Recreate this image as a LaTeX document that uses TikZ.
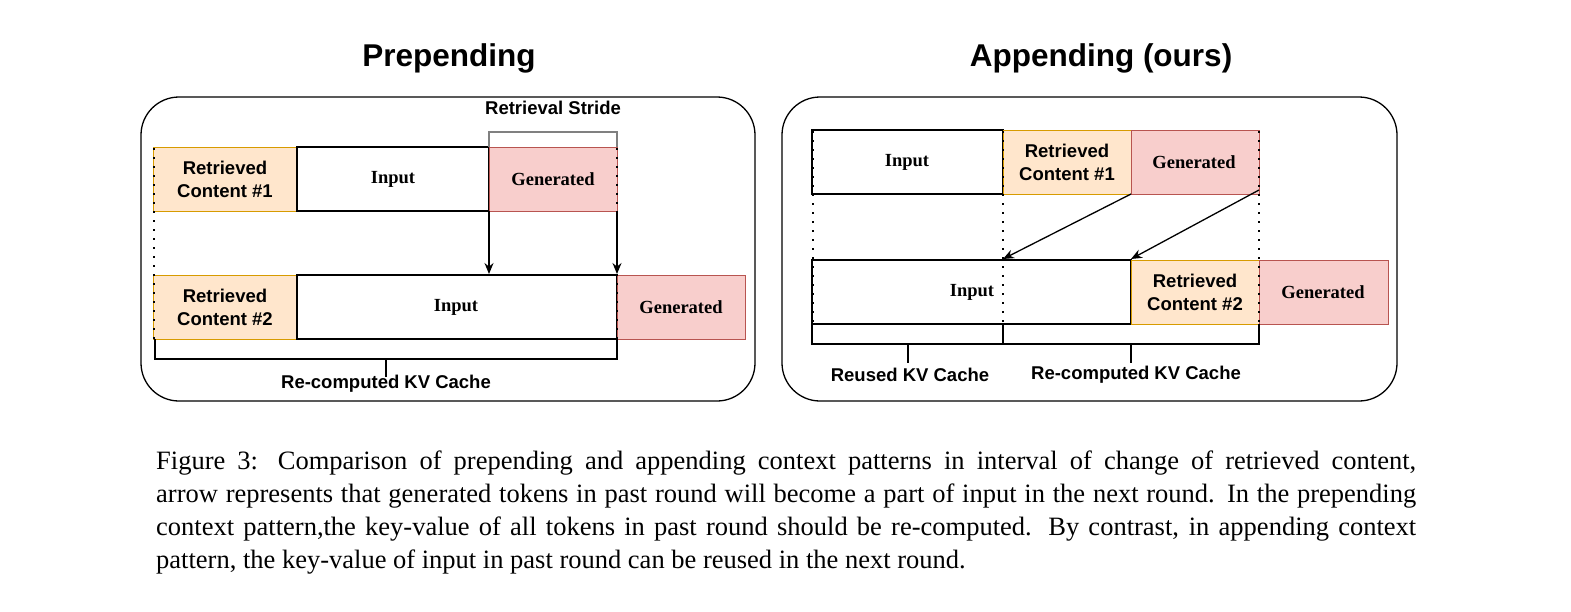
\documentclass[tikz,border=0pt]{standalone}
\usepackage{fontspec}
\setmainfont{Liberation Serif}
\setsansfont{Liberation Sans}
\usetikzlibrary{arrows.meta}
\definecolor{orf}{HTML}{FFE6CC}\definecolor{ord}{HTML}{D79B00}
\definecolor{ref}{HTML}{F8CECC}\definecolor{red2}{HTML}{B85450}
\begin{document}
\begin{tikzpicture}[x=1pt,y=-1pt,
 box/.style={draw=black,line width=1.2pt,inner sep=0pt},
 ret/.style={draw=ord,fill=orf,line width=1pt},
 gen/.style={draw=red2,fill=ref,line width=1pt},
 lab/.style={font=\bfseries\fontsize{18.5}{22}\selectfont},
 slab/.style={font=\sffamily\bfseries\fontsize{18.5}{23}\selectfont,align=center},
 dots/.style={line width=2.2pt,dash pattern=on 2pt off 7pt},
 arr/.style={-{Stealth[length=11pt,width=9pt]},line width=1.3pt},
 brk/.style={line width=1.3pt}]
\useasboundingbox (0,0) rectangle (1571,611);
% titles
\node[font=\sffamily\bfseries\fontsize{31.5}{36}\selectfont] (t1) at (449,58) {Prepending};
\node[font=\sffamily\bfseries\fontsize{31.5}{36}\selectfont] (t2) at (1101,58) {Appending (ours)};
\draw[line width=1.3pt,rounded corners=38pt] (141,97) rectangle (755,401);
\draw[line width=1.3pt,rounded corners=38pt] (782,97) rectangle (1397,401);
% left
\draw[ret] (153,147) rectangle (297,211); \node[slab] (r1) at (225,179) {Retrieved\\Content \#1};
\draw[box] (297,147) rectangle (489,211); \node[lab] (i1) at (393,179) {Input};
\draw[gen] (489,147) rectangle (617,211); \node[lab] (g1) at (553,179) {Generated};
\draw[ret] (153,275) rectangle (297,339); \node[slab] (r2) at (225,307) {Retrieved\\Content \#2};
\draw[box] (297,275) rectangle (617,339); \node[lab] (i2) at (456,307) {Input};
\draw[gen] (617,275) rectangle (745,339); \node[lab] (g2) at (681,307) {Generated};
\draw[dots] (154,148) -- (154,340);
\draw[dots] (617,148) -- (617,340);
\coordinate (a1) at (489,211); \coordinate (b1) at (489,274);
\coordinate (a2) at (617,211); \coordinate (b2) at (617,274);
\draw[arr] (a1) -- (b1); \draw[arr] (a2) -- (b2);
\draw[gray,line width=1.3pt] (489,147) -- (489,132) -- (617,132) -- (617,147);
\node[slab] (rs) at (553,108) {Retrieval Stride};
\draw[brk] (155,339) -- (155,359) -- (617,359) -- (617,339);
\draw[brk] (386,359) -- (386,377);
\node[slab] (rc) at (386,384) {Re-computed KV Cache};
% right
\draw[box] (812,130) rectangle (1003,194); \node[lab] (i3) at (907,162) {Input};
\draw[ret] (1003,130) rectangle (1131,194); \node[slab] (r3) at (1067,162) {Retrieved\\Content \#1};
\draw[gen] (1131,130) rectangle (1259,194); \node[lab] (g3) at (1194,162) {Generated};
\draw[box] (812,260) rectangle (1131,324); \node[lab] (i4) at (972,292) {Input};
\draw[ret] (1131,260) rectangle (1259,324); \node[slab] (r4) at (1195,292) {Retrieved\\Content \#2};
\draw[gen] (1259,260) rectangle (1388,324); \node[lab] (g4) at (1323,292) {Generated};
\draw[dots] (813,131) -- (813,325);
\draw[dots] (1003,131) -- (1003,325);
\draw[dots] (1259,131) -- (1259,325);
\coordinate (c1) at (1131,194); \coordinate (d1) at (1003,259);
\coordinate (c2) at (1259,190); \coordinate (d2) at (1131,259);
\draw[arr] (c1) -- (d1); \draw[arr] (c2) -- (d2);
\draw[brk] (812,324) -- (812,344) -- (1259,344) -- (1259,324);
\draw[brk] (1003,324) -- (1003,344);
\draw[brk] (908,344) -- (908,363); \draw[brk] (1131,344) -- (1131,363);
\node[slab] (ru) at (910,375) {Reused KV Cache};
\node[slab] (rc2) at (1136,375) {Re-computed KV Cache};
% caption
\begin{scope}[every node/.style={anchor=base west,inner sep=0pt,font=\fontsize{26.5}{30}\selectfont}]
\node (c1l) at (156,469) {\makebox[1260pt][s]{Figure 3: Comparison of prepending and appending context patterns in interval of change of retrieved content,}};
\node (c2l) at (156,502) {\makebox[1260pt][s]{arrow represents that generated tokens in past round will become a part of input in the next round. In the prepending}};
\node (c3l) at (156,535) {\makebox[1260pt][s]{context pattern,the key-value of all tokens in past round should be re-computed. By contrast, in appending context}};
\node (c4l) at (156,568) {pattern, the key-value of input in past round can be reused in the next round.};
\end{scope}
\end{tikzpicture}
\end{document}
